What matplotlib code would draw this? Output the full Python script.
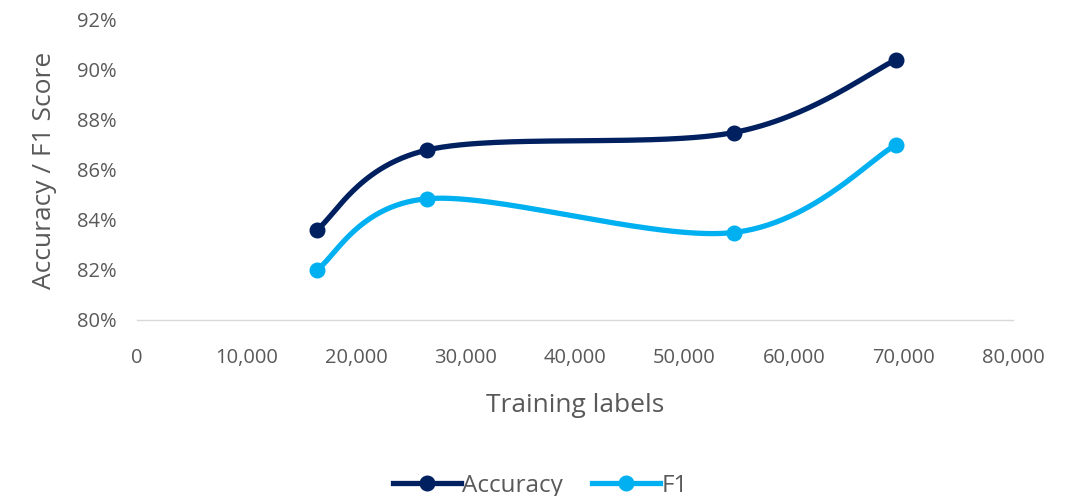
import numpy as np
import matplotlib
matplotlib.use("Agg")
import matplotlib.pyplot as plt
from matplotlib.ticker import FuncFormatter

training_labels = [16400, 26500, 54500, 69300]
accuracy = [83.6, 86.8, 87.5, 90.4]
f1 = [82.0, 84.85, 83.5, 87.0]
series_names = ["Accuracy", "F1"]
colors = ["#002060", "#00B0F0"]

plt.rcParams['font.family'] = ['Open Sans', 'DejaVu Sans']


def smooth(xs, ys, n=60):
    P = np.column_stack([xs, ys]).astype(float)
    P_ext = np.vstack([P[0], P, P[-1]])
    out = []
    t = np.linspace(0, 1, n)[:, None]
    for i in range(len(P) - 1):
        p0 = P_ext[i + 1]
        p3 = P_ext[i + 2]
        c1 = p0 + (P_ext[i + 2] - P_ext[i]) / 6
        c2 = p3 - (P_ext[i + 3] - P_ext[i + 1]) / 6
        seg = ((1 - t) ** 3) * p0 + 3 * ((1 - t) ** 2) * t * c1 + 3 * (1 - t) * t ** 2 * c2 + t ** 3 * p3
        out.append(seg if i == 0 else seg[1:])
    out = np.vstack(out)
    return out[:, 0], out[:, 1]


fig = plt.figure(figsize=(10.81, 4.96), dpi=100)
ax = fig.add_axes([137 / 1081, 176 / 496, (1013 - 137) / 1081, 300 / 496])

for name, vals, c in zip(series_names, [accuracy, f1], colors):
    sx, sy = smooth(training_labels, vals)
    ax.plot(sx, sy, color=c, lw=3.8, solid_capstyle='round', zorder=3)
    ax.plot(training_labels, vals, 'o', color=c, ms=10.5, zorder=4)
    ax.plot([], [], '-o', color=c, lw=3.8, ms=10.5, label=name)

ax.set_xlim(0, 80000)
ax.set_ylim(80, 92)
ax.set_xticks(np.arange(0, 80001, 10000))
ax.set_yticks(np.arange(80, 92.1, 2))
ax.xaxis.set_major_formatter(FuncFormatter(lambda v, p: f"{int(v):,}"))
ax.yaxis.set_major_formatter(FuncFormatter(lambda v, p: f"{int(round(v))}%"))
for s in ['top', 'right', 'left']:
    ax.spines[s].set_visible(False)
ax.spines['bottom'].set_color('#D9D9D9')
ax.spines['bottom'].set_linewidth(1)
ax.tick_params(axis='both', length=0, labelsize=14.5, colors='#595959')
ax.tick_params(axis='x', pad=20)
ax.tick_params(axis='y', pad=15)
ax.set_xlabel("Training labels", fontsize=19, color='#595959', labelpad=18)
ax.set_ylabel("Accuracy / F1 Score", fontsize=19, color='#595959', labelpad=14)

fig.legend(loc='center', bbox_to_anchor=(0.5, 10 / 496), ncol=2, frameon=False,
           fontsize=17.5, labelcolor='#595959', handlelength=2.8, handletextpad=0.05,
           columnspacing=1.2)

fig.savefig("out.png", dpi=100)
